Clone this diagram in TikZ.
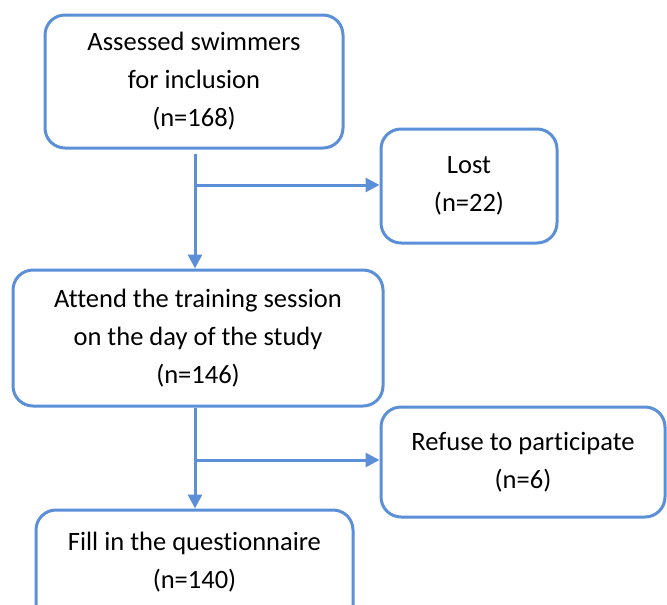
\documentclass[tikz,border=0pt]{standalone}
\usepackage{fontspec}
\setmainfont[Ligatures=NoCommon]{Carlito}
\usetikzlibrary{arrows.meta}
\definecolor{flowblue}{RGB}{91,143,215}
\begin{document}
\begin{tikzpicture}[x=1pt,y=-1pt,
    stepbox/.style={draw=flowblue,line width=3pt,rounded corners=20pt,align=center,
      font=\fontsize{26.5}{38}\selectfont,inner sep=0pt},
    flow/.style={draw=flowblue,line width=3pt,-{Triangle[length=14pt,width=14pt]}}]
  \useasboundingbox (0,0) rectangle (667,605);
  \node[stepbox,minimum width=298,minimum height=133] (assessed) at (194,81.5)
    {Assessed swimmers\\for inclusion\\(n=168)};
  \node[stepbox,minimum width=176,minimum height=114] (lost) at (469,186)
    {Lost\\(n=22)};
  \node[stepbox,minimum width=370,minimum height=136] (attend) at (198,338)
    {Attend the training session\\on the day of the study\\(n=146)};
  \node[stepbox,minimum width=284,minimum height=110] (refuse) at (523,462)
    {Refuse to participate\\(n=6)};
  \node[stepbox,minimum width=317,minimum height=130,text depth=29pt] (fill) at (194.5,575)
    {Fill in the questionnaire\\(n=140)};
  % connectors
  \coordinate (split1) at (195,185);
  \coordinate (split2) at (195,460);
  \draw[flow] (split1 |- 0,154) -- (split1 |- attend.north);
  \draw[flow] (split1) -- (split1 -| lost.west);
  \draw[flow] (split2 |- attend.south) -- (split2 |- fill.north);
  \draw[flow] (split2) -- (split2 -| refuse.west);
\end{tikzpicture}
\end{document}
